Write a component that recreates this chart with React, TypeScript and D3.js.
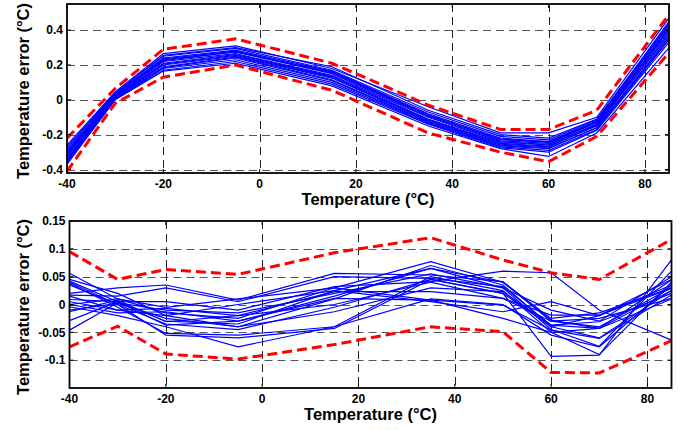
import React from 'react';
import * as d3 from 'd3';

// sensor temperatures (°C) where errors were sampled
const temps = [-40, -30, -20, -5, 15, 35, 50, 60, 70, 85];

// top panel: raw temperature error of each sensor
const rawErrors = [
  [-0.26, 0.045, 0.265, 0.31, 0.18, -0.04, -0.19, -0.19, -0.10, 0.47],
  [-0.27, 0.040, 0.255, 0.30, 0.19, -0.06, -0.20, -0.22, -0.11, 0.44],
  [-0.28, 0.036, 0.25, 0.295, 0.17, -0.07, -0.21, -0.23, -0.115, 0.43],
  [-0.29, 0.030, 0.24, 0.285, 0.165, -0.08, -0.22, -0.24, -0.12, 0.42],
  [-0.30, 0.028, 0.235, 0.28, 0.155, -0.09, -0.225, -0.245, -0.13, 0.41],
  [-0.31, 0.025, 0.225, 0.275, 0.15, -0.095, -0.235, -0.25, -0.13, 0.40],
  [-0.315, 0.020, 0.22, 0.265, 0.14, -0.10, -0.24, -0.26, -0.14, 0.405],
  [-0.32, 0.018, 0.21, 0.26, 0.135, -0.11, -0.245, -0.255, -0.14, 0.39],
  [-0.33, 0.015, 0.205, 0.255, 0.13, -0.115, -0.25, -0.265, -0.15, 0.38],
  [-0.34, 0.012, 0.20, 0.25, 0.125, -0.12, -0.255, -0.27, -0.145, 0.37],
  [-0.345, 0.010, 0.19, 0.245, 0.115, -0.125, -0.26, -0.275, -0.16, 0.36],
  [-0.35, 0.008, 0.185, 0.24, 0.11, -0.13, -0.265, -0.28, -0.16, 0.35],
  [-0.36, 0.005, 0.18, 0.23, 0.10, -0.135, -0.27, -0.29, -0.17, 0.345],
  [-0.37, 0.002, 0.17, 0.22, 0.09, -0.14, -0.275, -0.30, -0.175, 0.33],
  [-0.365, 0.0, 0.165, 0.21, 0.08, -0.15, -0.28, -0.325, -0.19, 0.30],
  [-0.30, 0.032, 0.23, 0.275, 0.16, -0.085, -0.23, -0.24, -0.125, 0.45],
];
const rawUpper = [-0.22, 0.065, 0.29, 0.35, 0.21, -0.03, -0.17, -0.17, -0.06, 0.49];
const rawLower = [-0.41, -0.02, 0.13, 0.20, 0.055, -0.19, -0.30, -0.355, -0.21, 0.27];

// bottom panel: residual error after correction
const residErrors = [
  [0.056, 0.010, -0.015, -0.025, 0.030, 0.077, 0.040, -0.030, -0.040, 0.030],
  [0.045, 0.020, -0.020, -0.040, 0.010, 0.070, 0.035, -0.040, -0.020, 0.045],
  [0.042, 0.005, -0.030, -0.035, 0.025, 0.065, 0.030, -0.045, -0.075, 0.060],
  [0.038, -0.005, -0.052, -0.055, -0.040, 0.050, 0.025, -0.050, -0.090, 0.040],
  [0.035, 0.000, -0.055, -0.060, -0.043, 0.045, 0.020, -0.093, -0.091, 0.080],
  [0.020, 0.030, 0.035, 0.008, 0.056, 0.053, 0.041, -0.028, -0.043, 0.025],
  [0.017, 0.015, 0.030, 0.005, 0.050, 0.047, 0.032, -0.037, -0.031, 0.020],
  [0.009, 0.005, 0.005, -0.010, 0.032, 0.041, 0.060, 0.057, -0.010, -0.064],
  [0.005, -0.010, -0.007, -0.020, 0.023, 0.023, 0.011, -0.019, -0.019, 0.029],
  [0.000, -0.015, -0.013, -0.030, 0.011, 0.008, -0.001, -0.046, -0.061, 0.017],
  [-0.004, -0.020, -0.040, -0.076, -0.040, 0.010, 0.000, -0.055, -0.076, 0.035],
  [-0.010, 0.002, -0.025, -0.040, -0.013, 0.030, 0.023, -0.037, -0.043, 0.044],
  [-0.013, 0.008, -0.031, -0.020, 0.000, 0.040, 0.011, -0.030, -0.025, 0.011],
  [-0.029, 0.005, -0.037, -0.030, 0.015, 0.065, 0.040, -0.025, -0.015, 0.030],
  [-0.046, 0.003, -0.010, -0.015, 0.020, 0.055, 0.030, -0.010, -0.030, 0.050],
  [0.015, -0.010, -0.020, 0.000, 0.025, 0.005, -0.013, 0.005, -0.020, 0.035],
  [0.000, 0.010, -0.005, 0.010, 0.030, 0.008, -0.025, -0.050, -0.043, 0.010],
  [0.040, 0.000, -0.035, -0.045, -0.005, 0.045, 0.020, -0.040, -0.060, 0.025],
];
const residUpper = [0.095, 0.045, 0.063, 0.054, 0.093, 0.12, 0.08, 0.057, 0.045, 0.117];
const residLower = [-0.076, -0.039, -0.089, -0.098, -0.072, -0.040, -0.049, -0.122, -0.123, -0.065];

const xTicks = [-40, -20, 0, 20, 40, 60, 80];
const topYTicks = [-0.4, -0.2, 0, 0.2, 0.4];
const topYLabels = ['-0.4', '-0.2', '0', '0.2', '0.4'];
const botYTicks = [-0.1, -0.05, 0, 0.05, 0.1, 0.15];
const botYLabels = ['-0.1', '-0.05', '0', '0.05', '0.1', '0.15'];
const botGrid = [-0.1, -0.05, 0, 0.05, 0.1];

const FONT = '"Liberation Sans", Arial, sans-serif';

type PanelProps = {
  id: string;
  left: number; right: number; top: number; bottom: number;
  yDomain: [number, number];
  yTicks: number[]; yLabels: string[]; yGrid: number[];
  series: number[][]; upper: number[]; lower: number[];
};

const Panel = (p: PanelProps) => {
  const x = d3.scaleLinear().domain([-40, 85]).range([p.left, p.right]);
  const y = d3.scaleLinear().domain(p.yDomain).range([p.bottom, p.top]);
  const line = d3.line<number>().x((_, i) => x(temps[i])).y(d => y(d));
  const tick = 4;
  return (
    <g fontFamily={FONT} fontWeight="bold">
      <defs>
        <clipPath id={p.id}>
          <rect x={p.left} y={p.top} width={p.right - p.left} height={p.bottom - p.top} />
        </clipPath>
      </defs>
      {p.yGrid.map(v => (
        <line key={'h' + v} x1={p.left} x2={p.right} y1={Math.round(y(v)) + 0.5} y2={Math.round(y(v)) + 0.5}
          stroke="#555" strokeWidth={1.2} strokeDasharray="8,5" />
      ))}
      {xTicks.filter(t => t > -40).map(t => (
        <line key={'v' + t} x1={Math.round(x(t)) + 0.5} x2={Math.round(x(t)) + 0.5} y1={p.top} y2={p.bottom}
          stroke="#222" strokeWidth={1} strokeDasharray="8,5" />
      ))}
      <g clipPath={`url(#${p.id})`}>
        {p.series.map((s, i) => (
          <path key={i} d={line(s) || ''} fill="none" stroke="#0000ff" strokeWidth={1.2} />
        ))}
        {[p.upper, p.lower].map((s, i) => (
          <path key={'r' + i} d={line(s) || ''} fill="none" stroke="#ff0000" strokeWidth={3}
            strokeDasharray="10,5" />
        ))}
      </g>
      {p.yTicks.map(v => (
        <g key={'yt' + v}>
          <line x1={p.left} x2={p.left + tick} y1={y(v)} y2={y(v)} stroke="#000" />
          <line x1={p.right} x2={p.right - tick} y1={y(v)} y2={y(v)} stroke="#000" />
        </g>
      ))}
      {xTicks.map(t => (
        <g key={'xt' + t}>
          <line x1={x(t)} x2={x(t)} y1={p.bottom} y2={p.bottom - tick} stroke="#000" />
          <line x1={x(t)} x2={x(t)} y1={p.top} y2={p.top + tick} stroke="#000" />
        </g>
      ))}
      <rect x={p.left} y={p.top} width={p.right - p.left} height={p.bottom - p.top}
        fill="none" stroke="#000" strokeWidth={1.8} />
      {p.yTicks.map((v, i) => (
        <text key={'yl' + v} x={p.left - 4} y={y(v)} dy="0.36em" textAnchor="end" fontSize={12}>
          {p.yLabels[i]}
        </text>
      ))}
      {xTicks.map(t => (
        <text key={'xl' + t} x={x(t)} y={p.bottom + 14.5} textAnchor="middle" fontSize={12}>
          {t}
        </text>
      ))}
      <text x={(p.left + p.right) / 2} y={p.bottom + 31.5} textAnchor="middle" fontSize={16.5}>
        Temperature (°C)
      </text>
      <text transform={`translate(28.5,${(p.top + p.bottom) / 2 + 2.5}) rotate(-90)`} textAnchor="middle" fontSize={16.5}>
        Temperature error (°C)
      </text>
    </g>
  );
};

export default function App() {
  return (
    <div style={{ position: 'fixed', left: 0, top: 0 }}>
      <svg width={688} height={430} style={{ display: 'block', background: '#fff' }}>
        <Panel id="c1" left={67} right={669} top={4} bottom={173} yDomain={[-0.42, 0.55]}
          yTicks={topYTicks} yLabels={topYLabels} yGrid={topYTicks}
          series={rawErrors} upper={rawUpper} lower={rawLower} />
        <Panel id="c2" left={69.5} right={671.5} top={221} bottom={388} yDomain={[-0.15, 0.15]}
          yTicks={botYTicks} yLabels={botYLabels} yGrid={botGrid}
          series={residErrors} upper={residUpper} lower={residLower} />
      </svg>
    </div>
  );
}
